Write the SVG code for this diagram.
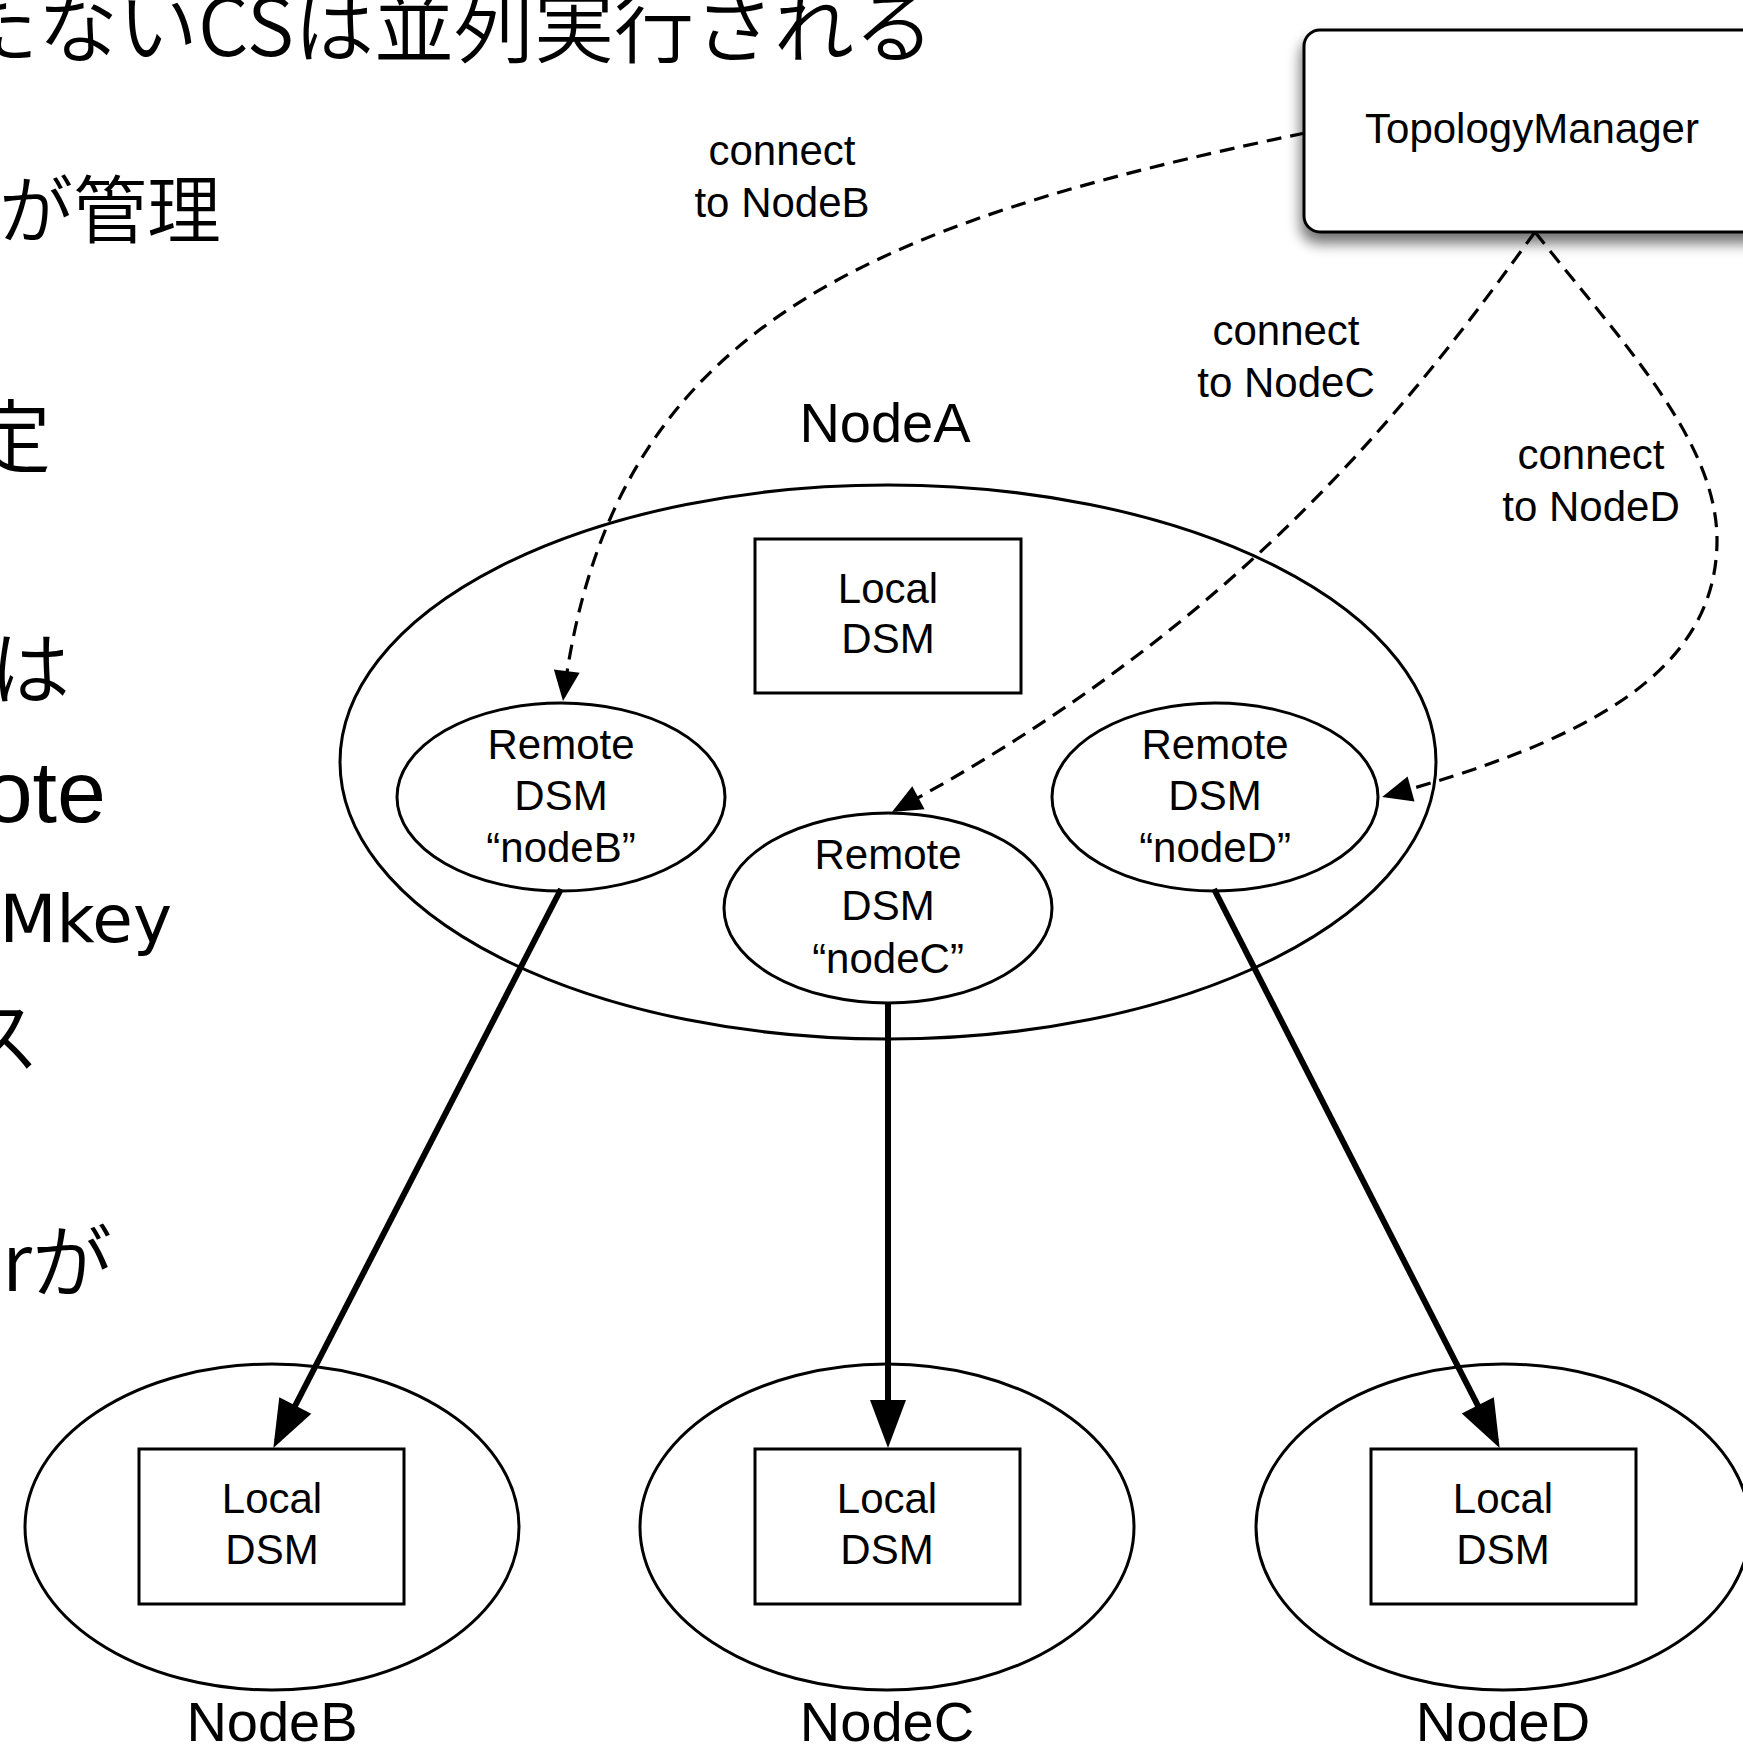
<svg xmlns="http://www.w3.org/2000/svg" width="1743" height="1746" viewBox="0 0 1743 1746">
<style>
.lbl{font-family:"Liberation Sans",Arial,Helvetica,sans-serif;font-size:42px;fill:#000;text-anchor:middle}
.big{font-size:56px}
.shape{fill:#fff;stroke:#000;stroke-width:3}
.solid{fill:none;stroke:#000;stroke-width:6}
.dash{fill:none;stroke:#000;stroke-width:3.2;stroke-dasharray:15 9}
.bg{font-family:"Noto Sans CJK JP",sans-serif;font-weight:350;fill:#000;text-anchor:end}
.bgl{font-family:"Liberation Sans",Arial,sans-serif;fill:#000;text-anchor:end}
.bgd{font-family:"DejaVu Sans",sans-serif;fill:#000;text-anchor:end}
</style>
<defs>
<marker id="ah" markerUnits="userSpaceOnUse" markerWidth="48" markerHeight="36" refX="40" refY="18" orient="auto" overflow="visible"><path d="M0,0 L48,18 L0,36 z" fill="#000" stroke="none"/></marker>
<marker id="ahd" markerUnits="userSpaceOnUse" markerWidth="30" markerHeight="26" refX="26" refY="13" orient="auto" overflow="visible"><path d="M0,0 L30,13 L0,26 z" fill="#000" stroke="none"/></marker>
<filter id="sh" x="-10%" y="-15%" width="130%" height="150%">
<feGaussianBlur in="SourceAlpha" stdDeviation="7"/>
<feOffset dx="-2" dy="10"/>
<feComponentTransfer><feFuncA type="linear" slope="0.55"/></feComponentTransfer>
<feMerge><feMergeNode/><feMergeNode in="SourceGraphic"/></feMerge>
</filter>
</defs>
<rect width="1743" height="1746" fill="#fff"/>

<g id="background-text">
<text class="bg" x="934" y="56" font-size="80">たないCSは並列実行される</text>
<text class="bg" x="221" y="237" font-size="74">が管理</text>
<text class="bg" x="51" y="466" font-size="80">定</text>
<text class="bg" x="70" y="698" font-size="80">は</text>
<text class="bgl" x="106" y="822" font-size="88">ote</text>
<text class="bgd" x="172" y="942" font-size="66">Mkey</text>
<text class="bg" x="40" y="1066" font-size="80">ス</text>
<text class="bg" x="112" y="1291" font-size="80">rが</text>
</g>

<g id="TopologyManager">
<rect x="1304" y="30" width="470" height="202" rx="16" class="shape" filter="url(#sh)"/>
<text class="lbl" x="1532" y="143">TopologyManager</text>
</g>

<g id="NodeA">
<ellipse cx="888" cy="762" rx="548" ry="277" class="shape"/>
<text class="lbl big" x="885" y="442">NodeA</text>
<g id="NodeA-LocalDSM">
<rect x="755" y="539" width="266" height="154" class="shape"/>
<text class="lbl" x="888" y="603">Local</text>
<text class="lbl" x="888" y="653">DSM</text>
</g>
</g>

<g id="RemoteDSM-nodeB">
<ellipse cx="561" cy="797" rx="164" ry="94" class="shape"/>
<text class="lbl" x="561" y="759">Remote</text>
<text class="lbl" x="561" y="810">DSM</text>
<text class="lbl" x="561" y="862">“nodeB”</text>
</g>
<g id="RemoteDSM-nodeC">
<ellipse cx="888" cy="908" rx="164" ry="95" class="shape"/>
<text class="lbl" x="888" y="869">Remote</text>
<text class="lbl" x="888" y="920">DSM</text>
<text class="lbl" x="888" y="973">“nodeC”</text>
</g>
<g id="RemoteDSM-nodeD">
<ellipse cx="1215" cy="797" rx="163" ry="94" class="shape"/>
<text class="lbl" x="1215" y="759">Remote</text>
<text class="lbl" x="1215" y="810">DSM</text>
<text class="lbl" x="1215" y="862">“nodeD”</text>
</g>

<g id="NodeB">
<ellipse cx="272" cy="1527" rx="247" ry="163" class="shape"/>
<rect x="139" y="1449" width="265" height="155" class="shape"/>
<text class="lbl" x="272" y="1513">Local</text>
<text class="lbl" x="272" y="1564">DSM</text>
<text class="lbl big" x="272" y="1741">NodeB</text>
</g>
<g id="NodeC">
<ellipse cx="887" cy="1527" rx="247" ry="163" class="shape"/>
<rect x="755" y="1449" width="265" height="155" class="shape"/>
<text class="lbl" x="887" y="1513">Local</text>
<text class="lbl" x="887" y="1564">DSM</text>
<text class="lbl big" x="887" y="1741">NodeC</text>
</g>
<g id="NodeD">
<ellipse cx="1503" cy="1527" rx="247" ry="163" class="shape"/>
<rect x="1371" y="1449" width="265" height="155" class="shape"/>
<text class="lbl" x="1503" y="1513">Local</text>
<text class="lbl" x="1503" y="1564">DSM</text>
<text class="lbl big" x="1503" y="1741">NodeD</text>
</g>

<g id="connectors">
<path class="solid" d="M561 889 L277 1441" marker-end="url(#ah)"/>
<path class="solid" d="M888 1003 L888 1440" marker-end="url(#ah)"/>
<path class="solid" d="M1214 889 L1496 1441" marker-end="url(#ah)"/>
<path class="dash" d="M1305 133 C 860 225, 610 330, 563.5 697" marker-end="url(#ahd)"/>
<path class="dash" d="M1535 232 C 1420 390, 1250 620, 895.5 810" marker-end="url(#ahd)"/>
<path class="dash" d="M1535 232 C 1620 340, 1717 440, 1717 540 C 1717 680, 1570 745, 1386 796" marker-end="url(#ahd)"/>
<text class="lbl" x="782" y="165">connect</text>
<text class="lbl" x="782" y="217">to NodeB</text>
<text class="lbl" x="1286" y="345">connect</text>
<text class="lbl" x="1286" y="397">to NodeC</text>
<text class="lbl" x="1591" y="469">connect</text>
<text class="lbl" x="1591" y="521">to NodeD</text>
</g>
</svg>
